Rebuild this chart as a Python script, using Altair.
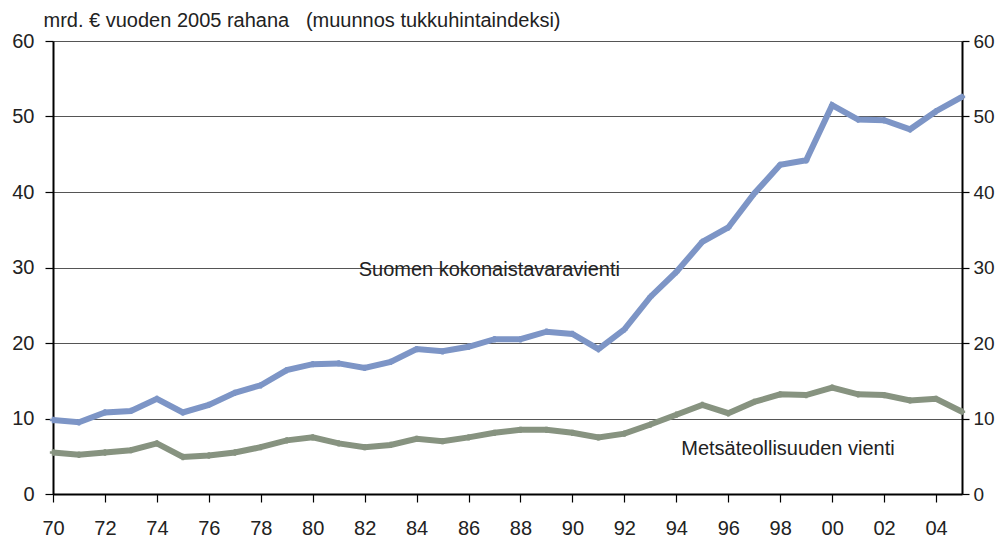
import altair as alt
import pandas as pd

years = list(range(1970, 2006))
total_export = [9.8, 9.5, 10.8, 11.0, 12.6, 10.8, 11.8, 13.4, 14.4, 16.4,
                17.2, 17.3, 16.7, 17.5, 19.2, 18.9, 19.5, 20.5, 20.5, 21.5,
                21.2, 19.2, 21.8, 26.1, 29.4, 33.4, 35.3, 39.8, 43.6, 44.2,
                51.5, 49.6, 49.5, 48.3, 50.7, 52.6]
forest_export = [5.5, 5.2, 5.5, 5.8, 6.7, 4.9, 5.1, 5.5, 6.2, 7.1,
                 7.5, 6.7, 6.2, 6.5, 7.3, 7.0, 7.5, 8.1, 8.5, 8.5,
                 8.1, 7.5, 8.0, 9.2, 10.5, 11.8, 10.7, 12.2, 13.2, 13.1,
                 14.1, 13.2, 13.1, 12.4, 12.6, 10.9]
series_names = ["Suomen kokonaistavaravienti", "Metsäteollisuuden vienti"]
series_colors = ["#7d95c6", "#879380"]

label_text = ["Suomen kokonaistavaravienti", "Metsäteollisuuden vienti"]
label_year = [1986.8, 1998.3]
label_value = [29.7, 6.0]

header = "mrd. € vuoden 2005 rahana\u00a0\u00a0 (muunnos tukkuhintaindeksi)"
tick_years = list(range(1970, 2006))
y_ticks = [0, 10, 20, 30, 40, 50, 60]

FONT = "Liberation Sans, Arial, sans-serif"

df = pd.DataFrame({
    "year": years * 2,
    "value": total_export + forest_export,
    "series": [series_names[0]] * len(years) + [series_names[1]] * len(years),
})
labels = pd.DataFrame({"text": label_text, "year": label_year, "value": label_value})

xscale = alt.Scale(domain=[1970, 2005], nice=False, zero=False)
yscale = alt.Scale(domain=[0, 60], nice=False)
color = alt.Color("series:N", scale=alt.Scale(domain=series_names, range=series_colors), legend=None)

x_axis = alt.Axis(
    values=tick_years,
    labelExpr="(datum.value % 2 == 0 && datum.value < 2005) ? slice(toString(datum.value), 2) : ''",
    grid=False, tickSize=8, tickColor="#000", tickWidth=1.2,
    domainColor="#000", domainWidth=2, labelPadding=16,
    labelFont=FONT, labelFontSize=20, labelColor="#222", title=None,
    labelOverlap=False, labelFlush=False,
)
y_left = alt.Axis(
    values=y_ticks, orient="left", grid=True, gridColor="#555", gridWidth=1,
    tickSize=8, tickColor="#000", tickWidth=1.2, domainColor="#000", domainWidth=2,
    labelPadding=11, labelFont=FONT, labelFontSize=20, labelColor="#222",
    title=header, titleAngle=0, titleAlign="left", titleBaseline="alphabetic",
    titleX=-10, titleY=-15, titleFont=FONT, titleFontSize=20, titleFontWeight="normal",
    titleColor="#222",
)
y_right = alt.Axis(
    values=y_ticks, orient="right", grid=False,
    tickSize=7, tickColor="#000", tickWidth=1.2, domainColor="#000", domainWidth=2,
    labelPadding=4, labelFont=FONT, labelFontSize=19, labelColor="#222", title=None,
)

base = alt.Chart(df)
lines = base.mark_line(strokeWidth=6, strokeJoin="miter", strokeCap="butt").encode(
    x=alt.X("year:Q", scale=xscale, axis=x_axis),
    y=alt.Y("value:Q", scale=yscale, axis=y_left),
    color=color,
    detail="series:N",
)
pts = base.mark_point(shape="cross", filled=True, size=40, opacity=1).encode(
    x=alt.X("year:Q", scale=xscale),
    y=alt.Y("value:Q", scale=yscale),
    color=color,
)
texts = alt.Chart(labels).mark_text(font=FONT, fontSize=20, color="#222", align="center", baseline="middle").encode(
    x=alt.X("year:Q", scale=xscale),
    y=alt.Y("value:Q", scale=yscale),
    text="text:N",
)
left = alt.layer(lines, pts, texts)
right = base.mark_line(opacity=0).encode(
    x=alt.X("year:Q", scale=xscale),
    y=alt.Y("value:Q", scale=yscale, axis=y_right),
    detail="series:N",
)

chart = alt.layer(left, right).resolve_scale(y="independent").properties(
    width=909, height=453,
    padding={"left": 45, "top": 33, "right": 33, "bottom": 43},
    autosize=alt.AutoSizeParams(type="none"),
).configure_view(stroke="#000", strokeWidth=1.5).configure(background="white")

chart.save("out.html", embed_options={"renderer": "svg", "actions": False})
